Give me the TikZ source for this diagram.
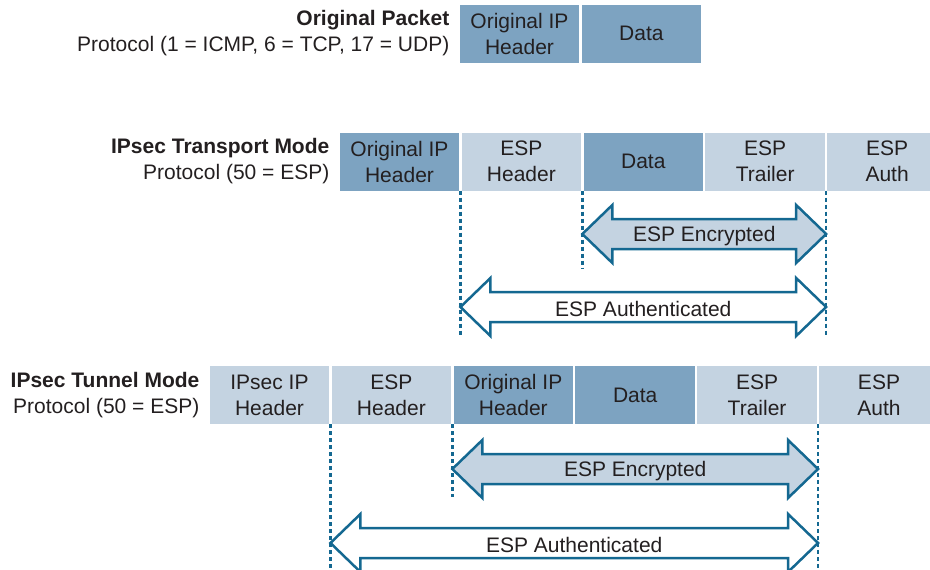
\documentclass[tikz,border=0pt]{standalone}
\usepackage{fontspec}
\setmainfont{Liberation Sans}
\usetikzlibrary{positioning,calc}
\usepackage{xcolor}

\definecolor{fielddark}{RGB}{125,163,193}
\definecolor{fieldlight}{RGB}{196,211,225}
\definecolor{espblue}{RGB}{20,104,145}
\definecolor{inkgray}{RGB}{35,31,32}

% block arrow between two points on the guide lines
\newcommand{\espspan}[4]{%
  \draw[span, fill=#3] (#1) -- ++(30,-29) -- ++(0,14) -- ($(#2)+(-30,-15)$)
    -- ++(0,-14) -- (#2) -- ++(-30,29) -- ++(0,-14) -- ($(#1)+(30,15)$)
    -- ++(0,14) -- cycle;
  \node[text=inkgray, yshift=-2pt] at ($(#1)!0.5!(#2)$) {#4};}

\begin{document}
\begin{tikzpicture}[
  x=1pt, y=-1pt,
  node distance=2pt,
  font=\fontsize{21}{26}\selectfont,
  field/.style={minimum width=119.5pt, minimum height=58pt, inner sep=0pt, align=center, text=inkgray},
  dark/.style={field, fill=fielddark},
  light/.style={field, fill=fieldlight},
  modelabel/.style={align=right, inner sep=0pt, text=inkgray, left=10pt of #1},
  guide/.style={draw=espblue, line width=2.5pt, dash pattern=on 4pt off 3pt},
  span/.style={draw=espblue, line width=2.5pt, line join=miter}
]
\useasboundingbox (0,0) rectangle (930,570);
\clip (0,0) rectangle (930,570);

% original packet
\node[dark] (oHdr) at (519.5,33.5) {Original IP\\Header};
\node[dark, right=of oHdr] (oData) {Data};
\node[modelabel=oHdr] (oLbl) {\textbf{Original Packet}\\Protocol (1 = ICMP, 6 = TCP, 17 = UDP)};

% transport mode
\node[dark] (tHdr) at (399.5,161.5) {Original IP\\Header};
\node[light, right=of tHdr] (tEspH) {ESP\\Header};
\node[dark, right=of tEspH] (tData) {Data};
\node[light, right=of tData] (tTrl) {ESP\\Trailer};
\node[light, right=of tTrl] (tAuth) {ESP\\Auth};
\node[modelabel=tHdr] (tLbl) {\textbf{IPsec Transport Mode}\\Protocol (50 = ESP)};

\coordinate (tg1) at ([xshift=-1pt]tEspH.south west);
\coordinate (tg2) at ([xshift=-1pt]tData.south west);
\coordinate (tg3) at ([xshift=-1pt]tAuth.south west);
\draw[guide] (tg1) -- (tg1 |- 0,336);
\draw[guide] (tg2) -- (tg2 |- 0,268);
\draw[guide] (tg3) -- (tg3 |- 0,336);

\coordinate (tEncL) at (tg2 |- 0,234);
\coordinate (tEncR) at (tg3 |- 0,234);
\coordinate (tAutL) at (tg1 |- 0,307);
\coordinate (tAutR) at (tg3 |- 0,307);
\espspan{tEncL}{tEncR}{fieldlight}{ESP Encrypted}
\espspan{tAutL}{tAutR}{white}{ESP Authenticated}

% tunnel mode
\node[light] (uNewHdr) at (269.5,395) {IPsec IP\\Header};
\node[light, right=of uNewHdr] (uEspH) {ESP\\Header};
\node[dark, right=of uEspH] (uHdr) {Original IP\\Header};
\node[dark, right=of uHdr] (uData) {Data};
\node[light, right=of uData] (uTrl) {ESP\\Trailer};
\node[light, right=of uTrl] (uAuth) {ESP\\Auth};
\node[modelabel=uNewHdr] (uLbl) {\textbf{IPsec Tunnel Mode}\\Protocol (50 = ESP)};

\coordinate (ug1) at ([xshift=-1pt]uEspH.south west);
\coordinate (ug2) at ([xshift=-1pt]uHdr.south west);
\coordinate (ug3) at ([xshift=-1pt]uAuth.south west);
\draw[guide] (ug1) -- (ug1 |- 0,570);
\draw[guide] (ug2) -- (ug2 |- 0,497);
\draw[guide] (ug3) -- (ug3 |- 0,570);

\coordinate (uEncL) at (ug2 |- 0,469);
\coordinate (uEncR) at (ug3 |- 0,469);
\coordinate (uAutL) at (ug1 |- 0,543);
\coordinate (uAutR) at (ug3 |- 0,543);
\espspan{uEncL}{uEncR}{fieldlight}{ESP Encrypted}
\espspan{uAutL}{uAutR}{white}{ESP Authenticated}

\end{tikzpicture}
\end{document}
